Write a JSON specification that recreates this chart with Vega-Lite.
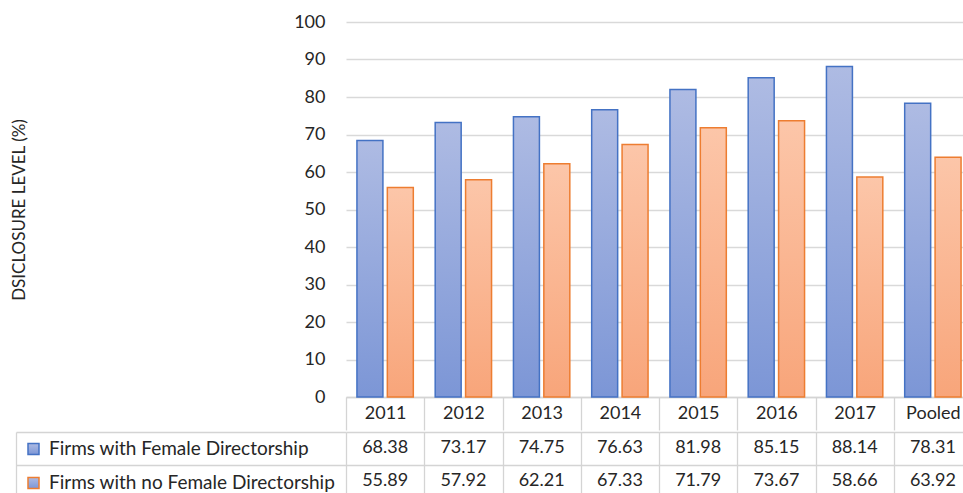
{
  "$schema": "https://vega.github.io/schema/vega-lite/v6.json",
  "padding": {"left": 10, "top": 13, "right": 0, "bottom": 0},
  "spacing": 0,
  "background": "white",
  "config": {
    "font": "Lato",
    "view": {"stroke": null},
    "axis": {"labelFont": "Lato", "titleFont": "Lato", "labelColor": "#262626", "titleColor": "#262626"},
    "legend": {"labelFont": "Lato"}
  },
  "datasets": {
    "d": [
      {"year": "2011", "series": "Firms with Female Directorship", "value": 68.38},
      {"year": "2012", "series": "Firms with Female Directorship", "value": 73.17},
      {"year": "2013", "series": "Firms with Female Directorship", "value": 74.75},
      {"year": "2014", "series": "Firms with Female Directorship", "value": 76.63},
      {"year": "2015", "series": "Firms with Female Directorship", "value": 81.98},
      {"year": "2016", "series": "Firms with Female Directorship", "value": 85.15},
      {"year": "2017", "series": "Firms with Female Directorship", "value": 88.14},
      {"year": "Pooled", "series": "Firms with Female Directorship", "value": 78.31},
      {"year": "2011", "series": "Firms with no Female Directorship", "value": 55.89},
      {"year": "2012", "series": "Firms with no Female Directorship", "value": 57.92},
      {"year": "2013", "series": "Firms with no Female Directorship", "value": 62.21},
      {"year": "2014", "series": "Firms with no Female Directorship", "value": 67.33},
      {"year": "2015", "series": "Firms with no Female Directorship", "value": 71.79},
      {"year": "2016", "series": "Firms with no Female Directorship", "value": 73.67},
      {"year": "2017", "series": "Firms with no Female Directorship", "value": 58.66},
      {"year": "Pooled", "series": "Firms with no Female Directorship", "value": 63.92}
    ]
  },
  "vconcat": [
    {
      "width": 626,
      "height": 375,
      "data": {"name": "d"},
      "encoding": {
        "x": {
          "field": "year", "type": "nominal",
          "sort": ["2011", "2012", "2013", "2014", "2015", "2016", "2017", "Pooled"],
          "scale": {"paddingInner": 0, "paddingOuter": 0},
          "axis": {
            "title": null, "orient": "bottom", "labelAngle": 0,
            "labelFontSize": 18, "labelBaseline": "middle", "labelPadding": -17,
            "domain": true, "domainColor": "#d4d4d4", "domainWidth": 1.3,
            "ticks": true, "tickSize": 33, "tickColor": "#d4d4d4", "tickWidth": 1.3, "tickBand": "extent",
            "grid": false
          }
        },
        "xOffset": {
          "field": "series", "type": "nominal",
          "sort": ["Firms with Female Directorship", "Firms with no Female Directorship"],
          "scale": {"paddingInner": 0.145, "paddingOuter": 0.36}
        },
        "y": {
          "field": "value", "type": "quantitative",
          "scale": {"domain": [0, 100]},
          "axis": {
            "title": "DSICLOSURE LEVEL (%)", "titleFontSize": 17, "titleFontWeight": "normal", "titlePadding": 265,
            "labelFontSize": 18, "labelPadding": 21,
            "values": [0, 10, 20, 30, 40, 50, 60, 70, 80, 90, 100],
            "domain": false, "ticks": false,
            "grid": true, "gridColor": "#d9d9d9", "gridWidth": 1.3
          }
        },
        "stroke": {
          "field": "series", "type": "nominal",
          "scale": {"domain": ["Firms with Female Directorship", "Firms with no Female Directorship"], "range": ["#4472C4", "#ED7D31"]},
          "legend": {
            "title": null, "orient": "none", "legendX": -322, "legendY": 417.5, "direction": "vertical",
            "padding": 0, "symbolType": "square", "symbolSize": 121, "symbolStrokeWidth": 1.5,
            "labelFontSize": 19, "labelColor": "#262626", "labelOffset": 6, "labelLimit": 400, "rowPadding": 14,
            "encode": {
              "symbols": {
                "update": {
                  "fill": {"signal": "datum.value === 'Firms with Female Directorship' ? '#93A6DB' : '#FAB28C'"},
                  "fillOpacity": {"value": 1}
                }
              }
            }
          }
        }
      },
      "layer": [
        {
          "transform": [{"filter": "datum.series === 'Firms with Female Directorship'"}],
          "mark": {
            "type": "bar", "strokeWidth": 1.5,
            "fill": {"gradient": "linear", "x1": 0, "y1": 0, "x2": 0, "y2": 1,
              "stops": [{"offset": 0, "color": "#AEBBE3"}, {"offset": 1, "color": "#7C96D6"}]}
          }
        },
        {
          "transform": [{"filter": "datum.series === 'Firms with no Female Directorship'"}],
          "mark": {
            "type": "bar", "strokeWidth": 1.5,
            "fill": {"gradient": "linear", "x1": 0, "y1": 0, "x2": 0, "y2": 1,
              "stops": [{"offset": 0, "color": "#FCC6A9"}, {"offset": 1, "color": "#F8A57A"}]}
          }
        }
      ]
    },
    {
      "width": 626,
      "height": 65,
      "data": {"name": "d"},
      "mark": {"type": "text", "fontSize": 18, "color": "#262626", "font": "Lato"},
      "encoding": {
        "x": {
          "field": "year", "type": "nominal",
          "sort": ["2011", "2012", "2013", "2014", "2015", "2016", "2017", "Pooled"],
          "scale": {"paddingInner": 0, "paddingOuter": 0},
          "axis": {
            "title": null, "labels": false, "ticks": false, "domain": false,
            "grid": true, "gridColor": "#d4d4d4", "gridWidth": 1.3, "tickBand": "extent"
          }
        },
        "y": {
          "field": "series", "type": "nominal",
          "sort": ["Firms with Female Directorship", "Firms with no Female Directorship"],
          "scale": {"paddingInner": 0, "paddingOuter": 0},
          "axis": {
            "title": null, "labels": false, "orient": "left", "offset": 330,
            "domain": true, "domainColor": "#d4d4d4", "domainWidth": 1.3,
            "ticks": true, "tickSize": -330, "tickColor": "#d4d4d4", "tickWidth": 1.3, "tickBand": "extent",
            "grid": true, "gridColor": "#d4d4d4", "gridWidth": 1.3
          }
        },
        "text": {"field": "value", "type": "quantitative", "format": ".2f"}
      }
    }
  ]
}
